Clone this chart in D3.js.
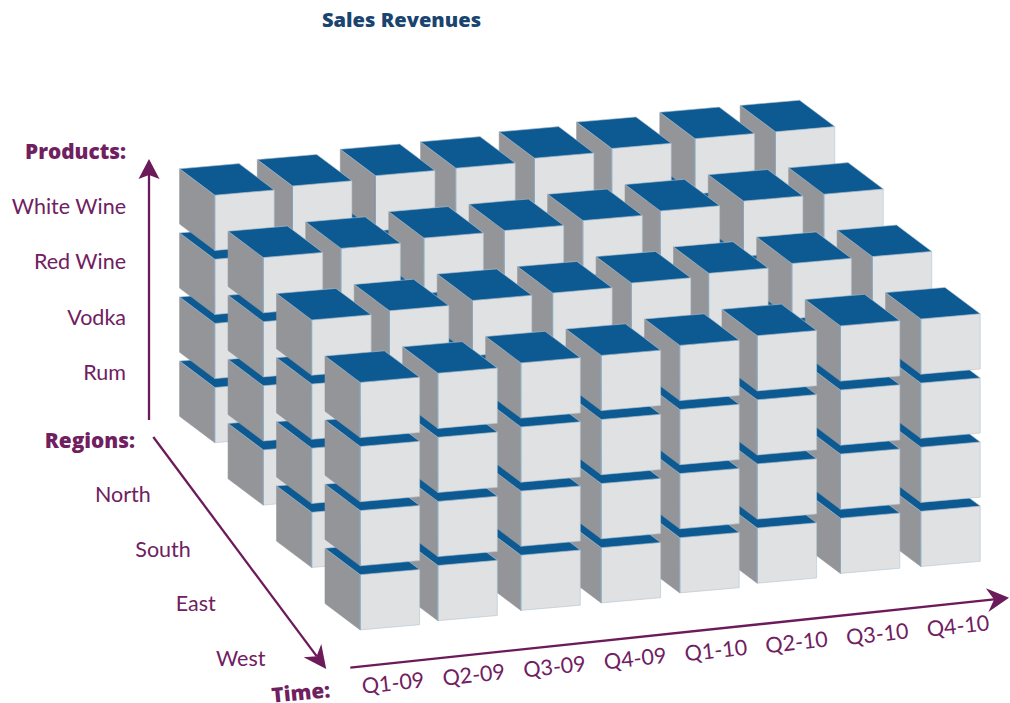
<!DOCTYPE html>
<html>
<head>
<meta charset="utf-8">
<title>Sales Revenues</title>
<script src="https://cdn.jsdelivr.net/npm/d3@7"></script>
<style>
  html, body { margin: 0; background: #fff; }
  svg { display: block; }
  text { font-family: Lato, "Open Sans", sans-serif; fill: #70205f; }
  text.heavy { font-family: "Open Sans", Lato, sans-serif; font-weight: 800; }
</style>
</head>
<body>
<svg id="cube" width="1010" height="703"></svg>
<script>
const times = ["Q1-09", "Q2-09", "Q3-09", "Q4-09", "Q1-10", "Q2-10", "Q3-10", "Q4-10"];
const regions = ["North", "South", "East", "West"];
const products = ["White Wine", "Red Wine", "Vodka", "Rum"];

const svg = d3.select("#cube");

// Oblique projection: each dimension moves a cell along its own screen direction.
const timeX = d3.scaleOrdinal(times, [0, 77.7, 160.7, 241, 319.6, 397, 480.2, 560.6]);
const timeY = d3.scaleOrdinal(times, [0, -9.2, -19.5, -27, -37, -46.7, -56.5, -63.4]);
const regionX = d3.scalePoint(regions, [179.6, 325]);
const regionY = d3.scalePoint(regions, [168.8, 356]);
const productY = d3.scalePoint(products, [0, 192.3]);

const cube = { wide: [59.4, -5.2], deep: [35.2, 26.4], tall: 55.2 };
const colors = { top: "#0d5a93", front: "#dfe1e3", side: "#939598", edge: "#b4c4d0", corner: "#7fa2bd" };

// Back rows first, right to left, bottom of each stack first.
const cells = d3.cross(regions, times.slice().reverse(), products.slice().reverse())
  .map(([region, time, product]) => ({ region, time, product }));

const line = d3.line();
const cellGroups = svg.append("g").attr("class", "cells")
  .selectAll("g").data(cells).join("g")
  .attr("transform", d => `translate(${regionX(d.region) + timeX(d.time)},${regionY(d.region) + timeY(d.time) + productY(d.product)})`);

const [wx, wy] = cube.wide, [dx, dy] = cube.deep, h = cube.tall;
const faces = [
  { fill: colors.side, stroke: colors.side, pts: [[0, 0], [dx, dy], [dx, dy + h], [0, h]] },
  { fill: colors.front, stroke: colors.edge, pts: [[dx, dy], [dx + wx, dy + wy], [dx + wx, dy + wy + h], [dx, dy + h]] },
  { fill: colors.top, stroke: colors.edge, pts: [[0, 0], [wx, wy], [wx + dx, wy + dy], [dx, dy]] }
];
faces.forEach(f => {
  cellGroups.append("path")
    .attr("d", line(f.pts) + "Z")
    .attr("fill", f.fill)
    .attr("stroke", f.stroke)
    .attr("stroke-width", 0.6)
    .attr("stroke-linejoin", "round");
});
// Near vertical corner of each cell
cellGroups.append("path")
  .attr("d", line([[dx, dy + 0.5], [dx, dy + h]]))
  .attr("stroke", colors.corner)
  .attr("stroke-width", 0.9);

// Axis arrows with notched heads
const axisColor = "#6c1a5a";
function arrow(from, to, width, len, notch) {
  const a = Math.atan2(to[1] - from[1], to[0] - from[0]);
  const ux = Math.cos(a), uy = Math.sin(a), nx = -uy, ny = ux;
  const back = [to[0] - ux * len, to[1] - uy * len];
  const mid = [to[0] - ux * notch, to[1] - uy * notch];
  svg.append("path").attr("d", line([from, mid]))
    .attr("stroke", axisColor).attr("stroke-width", 2.3).attr("fill", "none");
  svg.append("path")
    .attr("d", line([to, [back[0] + nx * width / 2, back[1] + ny * width / 2], mid, [back[0] - nx * width / 2, back[1] - ny * width / 2]]) + "Z")
    .attr("fill", axisColor);
}
arrow([149, 420], [149, 159], 21, 20, 16);
arrow([153.3, 437], [326.2, 669], 22, 23, 16);
arrow([350.3, 667.6], [1009, 597.8], 24, 22, 15);

// Category labels along each axis
const labelSize = 21.5;
const productLabelY = d3.scalePoint(products, [206.5, 372.5]);
svg.append("g").selectAll("text").data(products).join("text")
  .attr("x", 126).attr("y", d => productLabelY(d)).attr("dy", "0.35em")
  .attr("text-anchor", "end").attr("font-size", labelSize).text(d => d);

const regionLabelX = d3.scalePoint(regions, [95, 216]);
const regionLabelY = d3.scalePoint(regions, [494.5, 658.5]);
svg.append("g").selectAll("text").data(regions).join("text")
  .attr("x", d => regionLabelX(d)).attr("y", d => regionLabelY(d)).attr("dy", "0.35em")
  .attr("text-anchor", "start").attr("font-size", labelSize).text(d => d);

const timeLabelX = d3.scalePoint(times, [393, 958]);
const timeLabelY = d3.scalePoint(times, [683, 626]);
svg.append("g").selectAll("text").data(times).join("text")
  .attr("transform", d => `translate(${timeLabelX(d)},${timeLabelY(d)}) rotate(-6.2)`)
  .attr("dy", "0.35em").attr("text-anchor", "middle").attr("font-size", labelSize).text(d => d);

// Axis headings and chart title
function heading(text, x, y, anchor, angle) {
  svg.append("text").attr("class", "heavy").text(text)
    .attr("transform", `translate(${x},${y}) rotate(${angle || 0})`)
    .attr("dy", "0.35em").attr("text-anchor", anchor)
    .attr("font-size", 20.8);
}
heading("Products:", 126, 152, "end");
heading("Regions:", 135, 441, "end");
heading("Time:", 330, 690, "end", -5.4);

svg.append("text").attr("class", "heavy").text("Sales Revenues")
  .attr("x", 322).attr("y", 20).attr("dy", "0.35em")
  .attr("font-size", 20.1)
  .style("fill", "#1a4470");
</script>
</body>
</html>
